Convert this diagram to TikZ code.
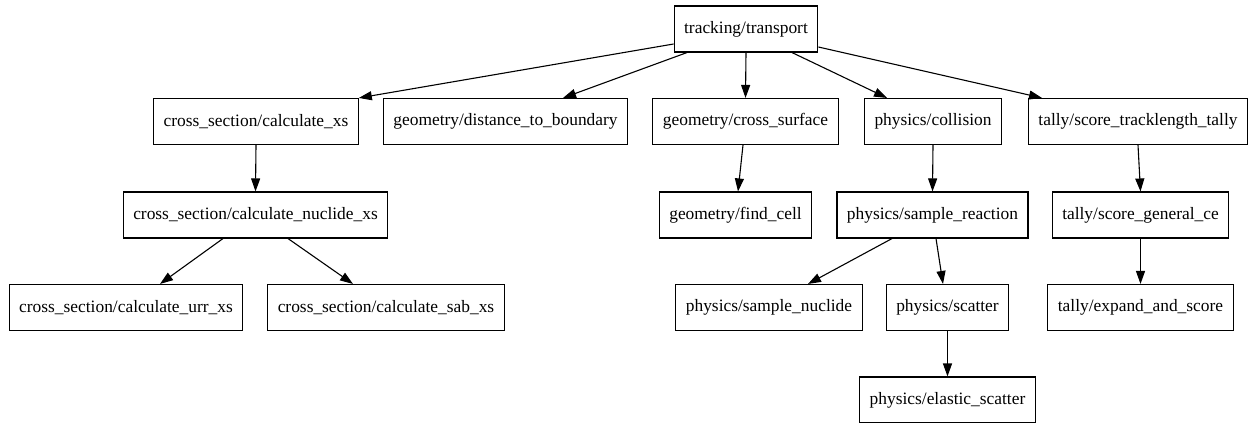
\documentclass[tikz,border=0pt]{standalone}
\usepackage{fontspec}
\setmainfont{Liberation Serif}
\usepackage{tikz}
\usetikzlibrary{positioning, calc, arrows.meta}

\tikzset{
  func/.style={draw,line width=1.1pt,minimum height=46pt,inner xsep=10pt,inner ysep=0pt,
    font=\fontsize{17.4}{20}\selectfont},
  call/.style={-{Triangle[length=13pt,width=9pt]},line width=1.1pt},
}

\begin{document}
\begin{tikzpicture}[x=1pt,y=-1pt]
      \useasboundingbox (0,0) rectangle (1253,423);
      % top row
      \node[func] (transport) at (746,29) {tracking/transport};
      % second row
      \node[func] (calcxs)   at (256,121.5)   {cross\_section/calculate\_xs};
      \node[func] (distbnd)  at (505.5,121.5) {geometry/distance\_to\_boundary};
      \node[func] (crosssurf) at (745.5,121.5) {geometry/cross\_surface};
      \node[func] (collision) at (933,121.5)   {physics/collision};
      \node[func] (tracklen) at (1138,121.5)  {tally/score\_tracklength\_tally};
      % third row
      \node[func] (nuclidexs) at (255.5,215)  {cross\_section/calculate\_nuclide\_xs};
      \node[func] (findcell)  at (735.5,215)  {geometry/find\_cell};
      \node[func] (reaction)  at (932.5,215)  {physics/sample\_reaction};
      \node[func] (generalce) at (1140.5,215) {tally/score\_general\_ce};
      % fourth row
      \node[func] (urrxs)    at (126,307.5)    {cross\_section/calculate\_urr\_xs};
      \node[func] (sabxs)    at (386,307.5)    {cross\_section/calculate\_sab\_xs};
      \node[func] (nuclide)  at (769,307.5)    {physics/sample\_nuclide};
      \node[func] (scatter)  at (947.5,307.5)  {physics/scatter};
      \node[func] (expand)   at (1140.5,307.5) {tally/expand\_and\_score};
      % fifth row
      \node[func] (elastic)  at (947.5,400) {physics/elastic\_scatter};

      \draw[call] ([yshift=-15pt]transport.west) -- (calcxs.north east);
      \draw[call] ([xshift=-59pt]transport.south) -- ([xshift=57.5pt]distbnd.north);
      \draw[call] (transport.south) -- (crosssurf.north);
      \draw[call] ([xshift=46pt]transport.south) -- ([xshift=-46pt]collision.north);
      \draw[call] ([yshift=-18pt]transport.east) -- ([xshift=-96pt]tracklen.north);
      \draw[call] (calcxs.south) -- (nuclidexs.north);
      \draw[call] ([xshift=-32.5pt]nuclidexs.south) -- ([xshift=34pt]urrxs.north);
      \draw[call] ([xshift=32.5pt]nuclidexs.south) -- ([xshift=-33pt]sabxs.north);
      \draw[call] ([xshift=-2.5pt]crosssurf.south) -- ([xshift=2.5pt]findcell.north);
      \draw[call] (collision.south) -- (reaction.north);
      \draw[call] ([xshift=-40.5pt]reaction.south) -- ([xshift=39pt]nuclide.north);
      \draw[call] ([xshift=3.5pt]reaction.south) -- ([xshift=-4.5pt]scatter.north);
      \draw[call] (scatter.south) -- (elastic.north);
      \draw[call] (tracklen.south) -- (generalce.north);
      \draw[call] (generalce.south) -- (expand.north);
\end{tikzpicture}
\end{document}
